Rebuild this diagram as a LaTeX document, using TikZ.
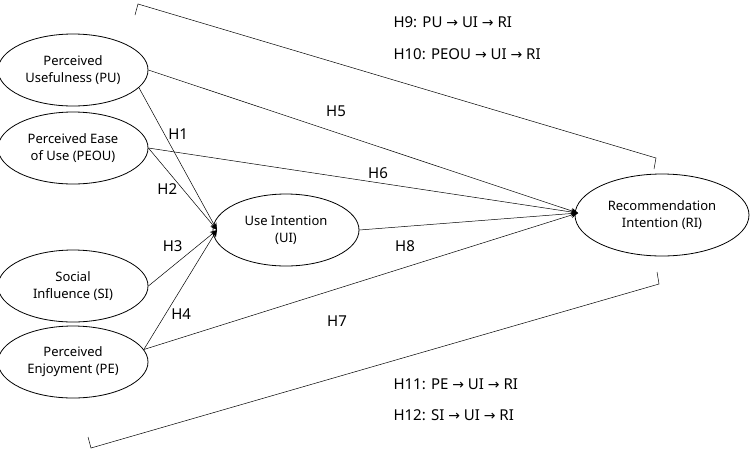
\documentclass[tikz,border=0pt]{standalone}
\usepackage{fontspec}
\setmainfont{Noto Sans}
\newfontfamily\arr{DejaVu Sans}
\usetikzlibrary{shapes.geometric,arrows.meta}
\newcommand{\ra}{{\arr\fontsize{14}{15}\selectfont →}}
\begin{document}
\begin{tikzpicture}[x=1pt,y=-1pt,
  ell/.style={ellipse,draw,thick,inner sep=0pt,font=\fontsize{13}{17}\selectfont,align=center},
  ln/.style={draw,line width=0.5pt},
  ar/.style={ln,-{Stealth[length=7pt,width=6pt]}},
  lb/.style={font=\fontsize{15}{17}\selectfont},
  hy/.style={font=\fontsize{15}{17}\selectfont,anchor=west}]
\useasboundingbox (0,0) rectangle (750,451);
\node[ell,minimum width=150,minimum height=72] (PU) at (73,70) {Perceived\\Usefulness (PU)};
\node[ell,minimum width=150,minimum height=72] (PEOU) at (73,148) {Perceived Ease\\of Use (PEOU)};
\node[ell,minimum width=150,minimum height=72] (SI) at (73,286) {Social\\Influence (SI)};
\node[ell,minimum width=150,minimum height=72] (PE) at (73,362) {Perceived\\Enjoyment (PE)};
\node[ell,minimum width=146,minimum height=72] (UI) at (286,230) {Use Intention\\(UI)};
\node[ell,minimum width=174,minimum height=82] (RI) at (662,215) {Recommendation\\Intention (RI)};
\coordinate (ui) at (217,230);
\coordinate (ri) at (578,213);
\draw[ar] (PU.-15) -- node[lb,pos=0.33,right] {H1} (ui);
\draw[ar] (PEOU.east) -- node[lb,pos=0.5,left,xshift=-2pt] {H2} (ui);
\draw[ar] (SI.east) -- node[lb,pos=0.55,above left] {H3} (ui);
\draw[ar] (PE.10) -- node[lb,pos=0.3,right,xshift=2pt] {H4} (ui);
\draw[ar] (PU.east) -- (ri);
\draw[ar] (PEOU.east) -- (ri);
\draw[ar] (UI.east) -- (ri);
\draw[ar] (PE.10) -- (ri);
\node[lb] (h5) at (336,111) {H5};
\node[lb] (h6) at (378,173) {H6};
\node[lb] (h7) at (337,321) {H7};
\node[lb] (h8) at (405,246) {H8};
\draw[ln] (135,15) -- (138,4) -- (656,158) -- (654,169);
\draw[ln] (88,437) -- (91,448) -- (659,284) -- (657,272);
\node[hy] (h9) at (390,22) {H9: PU \ra{} UI \ra{} RI};
\node[hy] (h10) at (390,54) {H10: PEOU \ra{} UI \ra{} RI};
\node[hy] (h11) at (390,384) {H11: PE \ra{} UI \ra{} RI};
\node[hy] (h12) at (390,415) {H12: SI \ra{} UI \ra{} RI};
\end{tikzpicture}
\end{document}
